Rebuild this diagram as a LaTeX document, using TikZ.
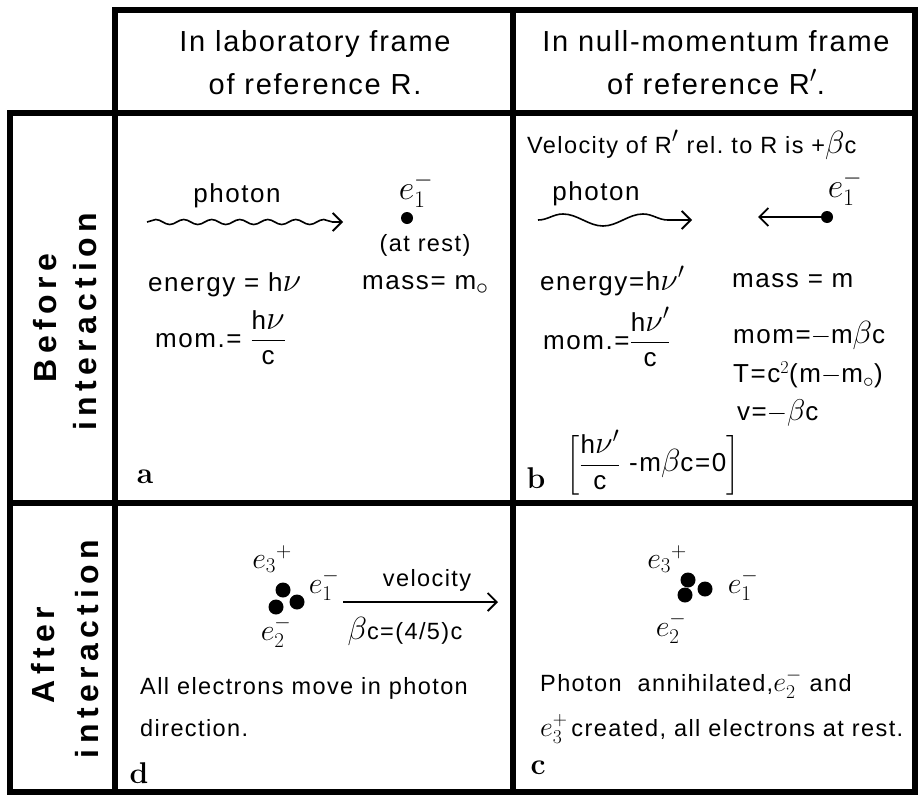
\RequirePackage{fix-cm}
\documentclass[tikz,border=0pt]{standalone}
\usepackage{amsmath}
\usepackage{fontspec}
\setsansfont{Liberation Sans}[LetterSpace=6]
\newfontfamily\sidefont{Liberation Sans}[LetterSpace=17]
\usetikzlibrary{decorations.pathmorphing,arrows.meta}
\newcommand\Mbig[2]{{\fontsize{#1}{#1}\selectfont$#2$}}
\begin{document}
\begin{tikzpicture}[x=1pt,y=-1pt,
  gridline/.style={line width=5.5pt,line cap=rect},
  hdr/.style={font=\sffamily\fontsize{29}{43}\selectfont,align=center,inner sep=0pt},
  bodyA/.style={font=\sffamily\fontsize{26}{30}\selectfont,inner sep=0pt},
  bodyV/.style={font=\sffamily\fontsize{23.5}{28}\selectfont,inner sep=0pt},
  bodyB/.style={font=\sffamily\fontsize{23.5}{28}\selectfont,inner sep=0pt},
  sidelab/.style={font=\sidefont\bfseries\fontsize{32}{36}\selectfont,rotate=90,inner sep=0pt},
  plabel/.style={font=\rmfamily\bfseries\fontsize{30}{34}\selectfont,inner sep=0pt},
  dotA/.style={circle,fill=black,inner sep=0pt,minimum size=12pt},
  dotB/.style={circle,fill=black,inner sep=0pt,minimum size=15pt},
  barb/.style={line width=1.8pt,-{Straight Barb[length=9pt,width=18pt,line width=1.8pt]}},
  waveA/.style={line width=1.6pt,-{Straight Barb[length=9pt,width=18pt,line width=1.8pt]},decorate,decoration={snake,segment length=28pt,amplitude=2.5pt,post length=6pt}},
  waveB/.style={line width=1.6pt,-{Straight Barb[length=9pt,width=18pt,line width=1.8pt]},decorate,decoration={snake,segment length=80pt,amplitude=6pt,post length=6pt}}
]
\useasboundingbox (0,0) rectangle (920,798);
\fill[white] (0,0) rectangle (920,798);

% grid
\draw[gridline] (115,10) -- (915,10);
\draw[gridline] (115,10) -- (115,792);
\draw[gridline] (513,10) -- (513,792);
\draw[gridline] (915,10) -- (915,792);
\draw[gridline] (10,113) -- (915,113);
\draw[gridline] (10,503) -- (915,503);
\draw[gridline] (10,792) -- (915,792);
\draw[gridline] (10,113) -- (10,792);

% headers
\node[hdr] (hA) at (315,63) {In laboratory frame\\of reference R.};
\node[hdr] (hB) at (716,63) {In null-momentum frame\\of reference R\Mbig{34}{'}.};

% side labels
\node[sidelab] (sb1) at (45,318) {Before};
\node[sidelab] (sb2) at (85,322) {interaction};
\node[sidelab] (sa1) at (43,655) {After};
\node[sidelab] (sa2) at (87,649) {interaction};

% panel a
\node[bodyA] (phA) at (237,196) {photon};
\coordinate (wA1) at (147,222);
\coordinate (wA2) at (343,222);
\draw[waveA] (wA1) -- (wA2);
\node[dotA] (eA) at (407,218) {};
\node[bodyA] (eAl) at (416,190) {\Mbig{34}{e_1^-}};
\node[bodyV] (rest) at (425,245) {(at rest)};
\node[bodyA,anchor=west] (enA) at (148,285) {energy = h\Mbig{34}{\nu}};
\node[bodyA,anchor=west] (maA) at (362,285) {mass= m\Mbig{34}{_\circ}};
\node[bodyA,anchor=base west] (moA) at (155,347) {mom.= $\dfrac{\text{h\Mbig{34}{\nu}}}{\text{c}}$};
\node[plabel] (la) at (145,477) {a};

% panel b
\node[bodyV,anchor=west] (vel) at (527,145) {Velocity of R\Mbig{32}{'} rel.\ to R is +\Mbig{32}{\beta}c};
\node[bodyA] (phB) at (596,194) {photon};
\coordinate (wB1) at (538,220);
\coordinate (wB2) at (692,220);
\draw[waveB] (wB1) -- (wB2);
\node[dotA] (eB) at (827,217) {};
\coordinate (eBt) at (758,217);
\draw[barb] (eB) -- (eBt);
\node[bodyA] (eBl) at (845,188) {\Mbig{34}{e_1^-}};
\node[bodyA,anchor=west] (enB) at (540,281) {energy=h\Mbig{32}{\nu'}};
\node[bodyA,anchor=west] (maB) at (732,281) {mass = m};
\node[bodyA,anchor=base west] (moB) at (543,349) {mom.=$\dfrac{\text{h\Mbig{32}{\nu'}}}{\text{c}}$};
\node[bodyA,anchor=west] (mo2B) at (733,335) {mom=$-$m\Mbig{32}{\beta}c};
\node[bodyA,anchor=west] (TB) at (733,375) {T=c$^2$(m$-$m\Mbig{30}{_\circ})};
\node[bodyA,anchor=west] (vB) at (737,413) {v=$-$\Mbig{30}{\beta}c};
\node[bodyA,anchor=west] (eqB) at (566,463) {$\bigg[\dfrac{\text{h\Mbig{32}{\nu'}}}{\text{c}}\text{ -m\Mbig{32}{\beta}c=0}\bigg]$};
\node[plabel] (lb) at (536,478) {b};

% panel d
\node[dotB] (d3) at (283,590) {};
\node[dotB] (d1) at (297,602) {};
\node[dotB] (d2) at (276,607) {};
\node[bodyB] (d3l) at (272,559) {\Mbig{30}{e_3{}^+}};
\node[bodyB] (d2l) at (276,632) {\Mbig{30}{e_2^-}};
\node[bodyB] (d1l) at (324,585) {\Mbig{30}{e_1^-}};
\coordinate (vd1) at (343,602);
\coordinate (vd2) at (498,602);
\draw[barb] (vd1) -- (vd2);
\node[bodyB] (veld) at (427,580) {velocity};
\node[bodyB] (bcd) at (405,631) {\Mbig{32}{\beta}c=(4/5)c};
\node[bodyB,anchor=west] (alld) at (140,688) {All electrons move in photon};
\node[bodyB,anchor=west] (dird) at (140,728) {direction.};
\node[plabel] (ld) at (139,773) {d};

% panel c
\node[dotB] (c3) at (688,580) {};
\node[dotB] (c1) at (705,589) {};
\node[dotB] (c2) at (685,595) {};
\node[bodyB] (c3l) at (667,559) {\Mbig{30}{e_3{}^+}};
\node[bodyB] (c1l) at (743,585) {\Mbig{30}{e_1^-}};
\node[bodyB] (c2l) at (671,628) {\Mbig{30}{e_2^-}};
\node[bodyB,anchor=west] (tc1) at (540,684) {Photon\ \ annihilated,\Mbig{28}{e_2^-} and};
\node[bodyB,anchor=west] (tc2) at (540,729) {\Mbig{28}{e_3^+}\,created, all electrons at rest.};
\node[plabel] (lc) at (538,768) {c};
\end{tikzpicture}
\end{document}
